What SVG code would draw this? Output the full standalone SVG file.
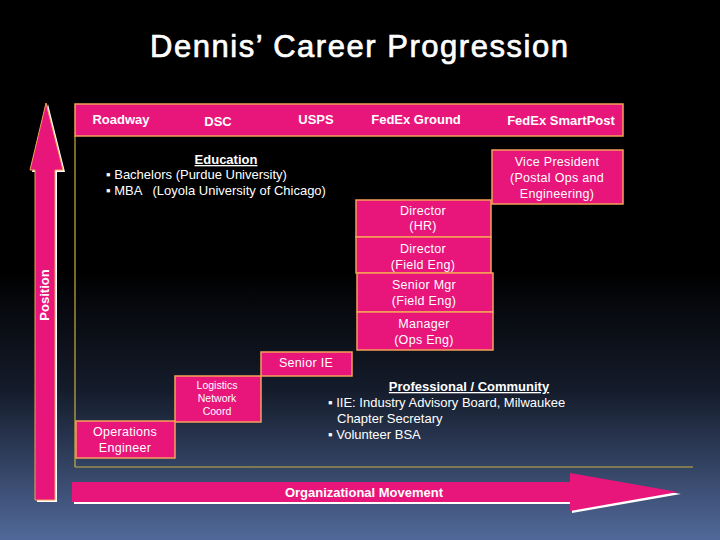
<svg xmlns="http://www.w3.org/2000/svg" width="720" height="540" viewBox="0 0 720 540">
<defs>
<linearGradient id="bg" x1="0" y1="0" x2="0" y2="1">
<stop offset="0" stop-color="#000000"/>
<stop offset="0.5" stop-color="#000000"/>
<stop offset="0.72" stop-color="#141b2a"/>
<stop offset="1" stop-color="#51699a"/>
</linearGradient>
<style>
.box{fill:#e8157b;stroke:#f5a05a;stroke-width:1.5}
.t{font-family:"Liberation Sans",Arial,sans-serif;fill:#ffffff;text-anchor:middle}
.hd{font-size:13px;font-weight:bold}
.bx{font-size:12.5px;letter-spacing:0.3px}
.sm{font-size:10.5px}
.bl{font-family:"Liberation Sans",Arial,sans-serif;fill:#ffffff;font-size:13px}
.ax{stroke:#c8b040;stroke-width:1.2;fill:none}
.arr{fill:#e8157b}
</style>
</defs>
<rect x="0" y="0" width="720" height="540" fill="url(#bg)"/>
<text class="t" x="359" y="57" font-size="31" stroke="#ffffff" stroke-width="0.7" textLength="418" lengthAdjust="spacing">Dennis’ Career Progression</text>

<g id="axes">
<line class="ax" x1="75" y1="136" x2="75" y2="467"/>
<line class="ax" x1="75" y1="467" x2="693" y2="467"/>
<polygon points="48,104 65,172 57,172 57,502 37,502 37,172 32,172" fill="#ffffff"/>
<polygon class="arr" points="46,103 63,170 55,170 55,500 35,500 35,170 30,170" stroke="#f5a05a" stroke-width="1"/>
<polygon points="74,484 572,484 572,475 681,494 572,513 572,504 74,504" fill="#ffffff"/>
<polygon class="arr" points="72,482 570,482 570,473 678,492 570,511 570,502 72,502"/>
</g>

<g id="position-label">
<text class="t hd" transform="translate(49,295) rotate(-90)">Position</text>
</g>

<g id="header">
<rect class="box" x="75" y="104" width="548" height="32"/>
<text class="t hd" x="121" y="124">Roadway</text>
<text class="t hd" x="218" y="126">DSC</text>
<text class="t hd" x="316" y="124">USPS</text>
<text class="t hd" x="416" y="124">FedEx Ground</text>
<text class="t hd" x="561" y="125">FedEx SmartPost</text>
</g>

<g id="education">
<text class="t" x="226" y="164" font-size="13" font-weight="bold" text-decoration="underline">Education</text>
<text class="bl" x="106" y="179">▪ Bachelors (Purdue University)</text>
<text class="bl" x="106" y="195" xml:space="preserve">▪ MBA   (Loyola University of Chicago)</text>
</g>

<g id="vice-president">
<rect class="box" x="492" y="150" width="131" height="54"/>
<text class="t bx" x="557" y="166">Vice President</text>
<text class="t bx" x="557" y="182">(Postal Ops and</text>
<text class="t bx" x="557" y="198">Engineering)</text>
</g>

<g id="director-hr">
<rect class="box" x="356" y="200" width="135" height="37"/>
<text class="t bx" x="423" y="215">Director</text>
<text class="t bx" x="423" y="230">(HR)</text>
</g>

<g id="director-field">
<rect class="box" x="356" y="237" width="135" height="36"/>
<text class="t bx" x="423" y="253">Director</text>
<text class="t bx" x="423" y="269">(Field Eng)</text>
</g>

<g id="senior-mgr">
<rect class="box" x="357" y="273" width="136" height="39"/>
<text class="t bx" x="424" y="289">Senior Mgr</text>
<text class="t bx" x="424" y="305">(Field Eng)</text>
</g>

<g id="manager">
<rect class="box" x="357" y="312" width="136" height="38"/>
<text class="t bx" x="424" y="328">Manager</text>
<text class="t bx" x="424" y="344">(Ops Eng)</text>
</g>

<g id="senior-ie">
<rect class="box" x="261" y="352" width="91" height="24"/>
<text class="t bx" x="306" y="367">Senior IE</text>
</g>

<g id="logistics">
<rect class="box" x="175" y="376" width="86" height="46"/>
<text class="t sm" x="217" y="389">Logistics</text>
<text class="t sm" x="217" y="402">Network</text>
<text class="t sm" x="217" y="415">Coord</text>
</g>

<g id="operations-engineer">
<rect class="box" x="76" y="421" width="99" height="37"/>
<text class="t bx" x="125" y="436">Operations</text>
<text class="t bx" x="125" y="452">Engineer</text>
</g>

<g id="professional">
<text class="t" x="469" y="391" font-size="13" font-weight="bold" text-decoration="underline">Professional / Community</text>
<text class="bl" x="328" y="407">▪ IIE: Industry Advisory Board, Milwaukee</text>
<text class="bl" x="337" y="423">Chapter Secretary</text>
<text class="bl" x="328" y="439">▪ Volunteer BSA</text>
</g>

<g id="org-label">
<text class="t hd" x="364" y="497">Organizational Movement</text>
</g>
</svg>
